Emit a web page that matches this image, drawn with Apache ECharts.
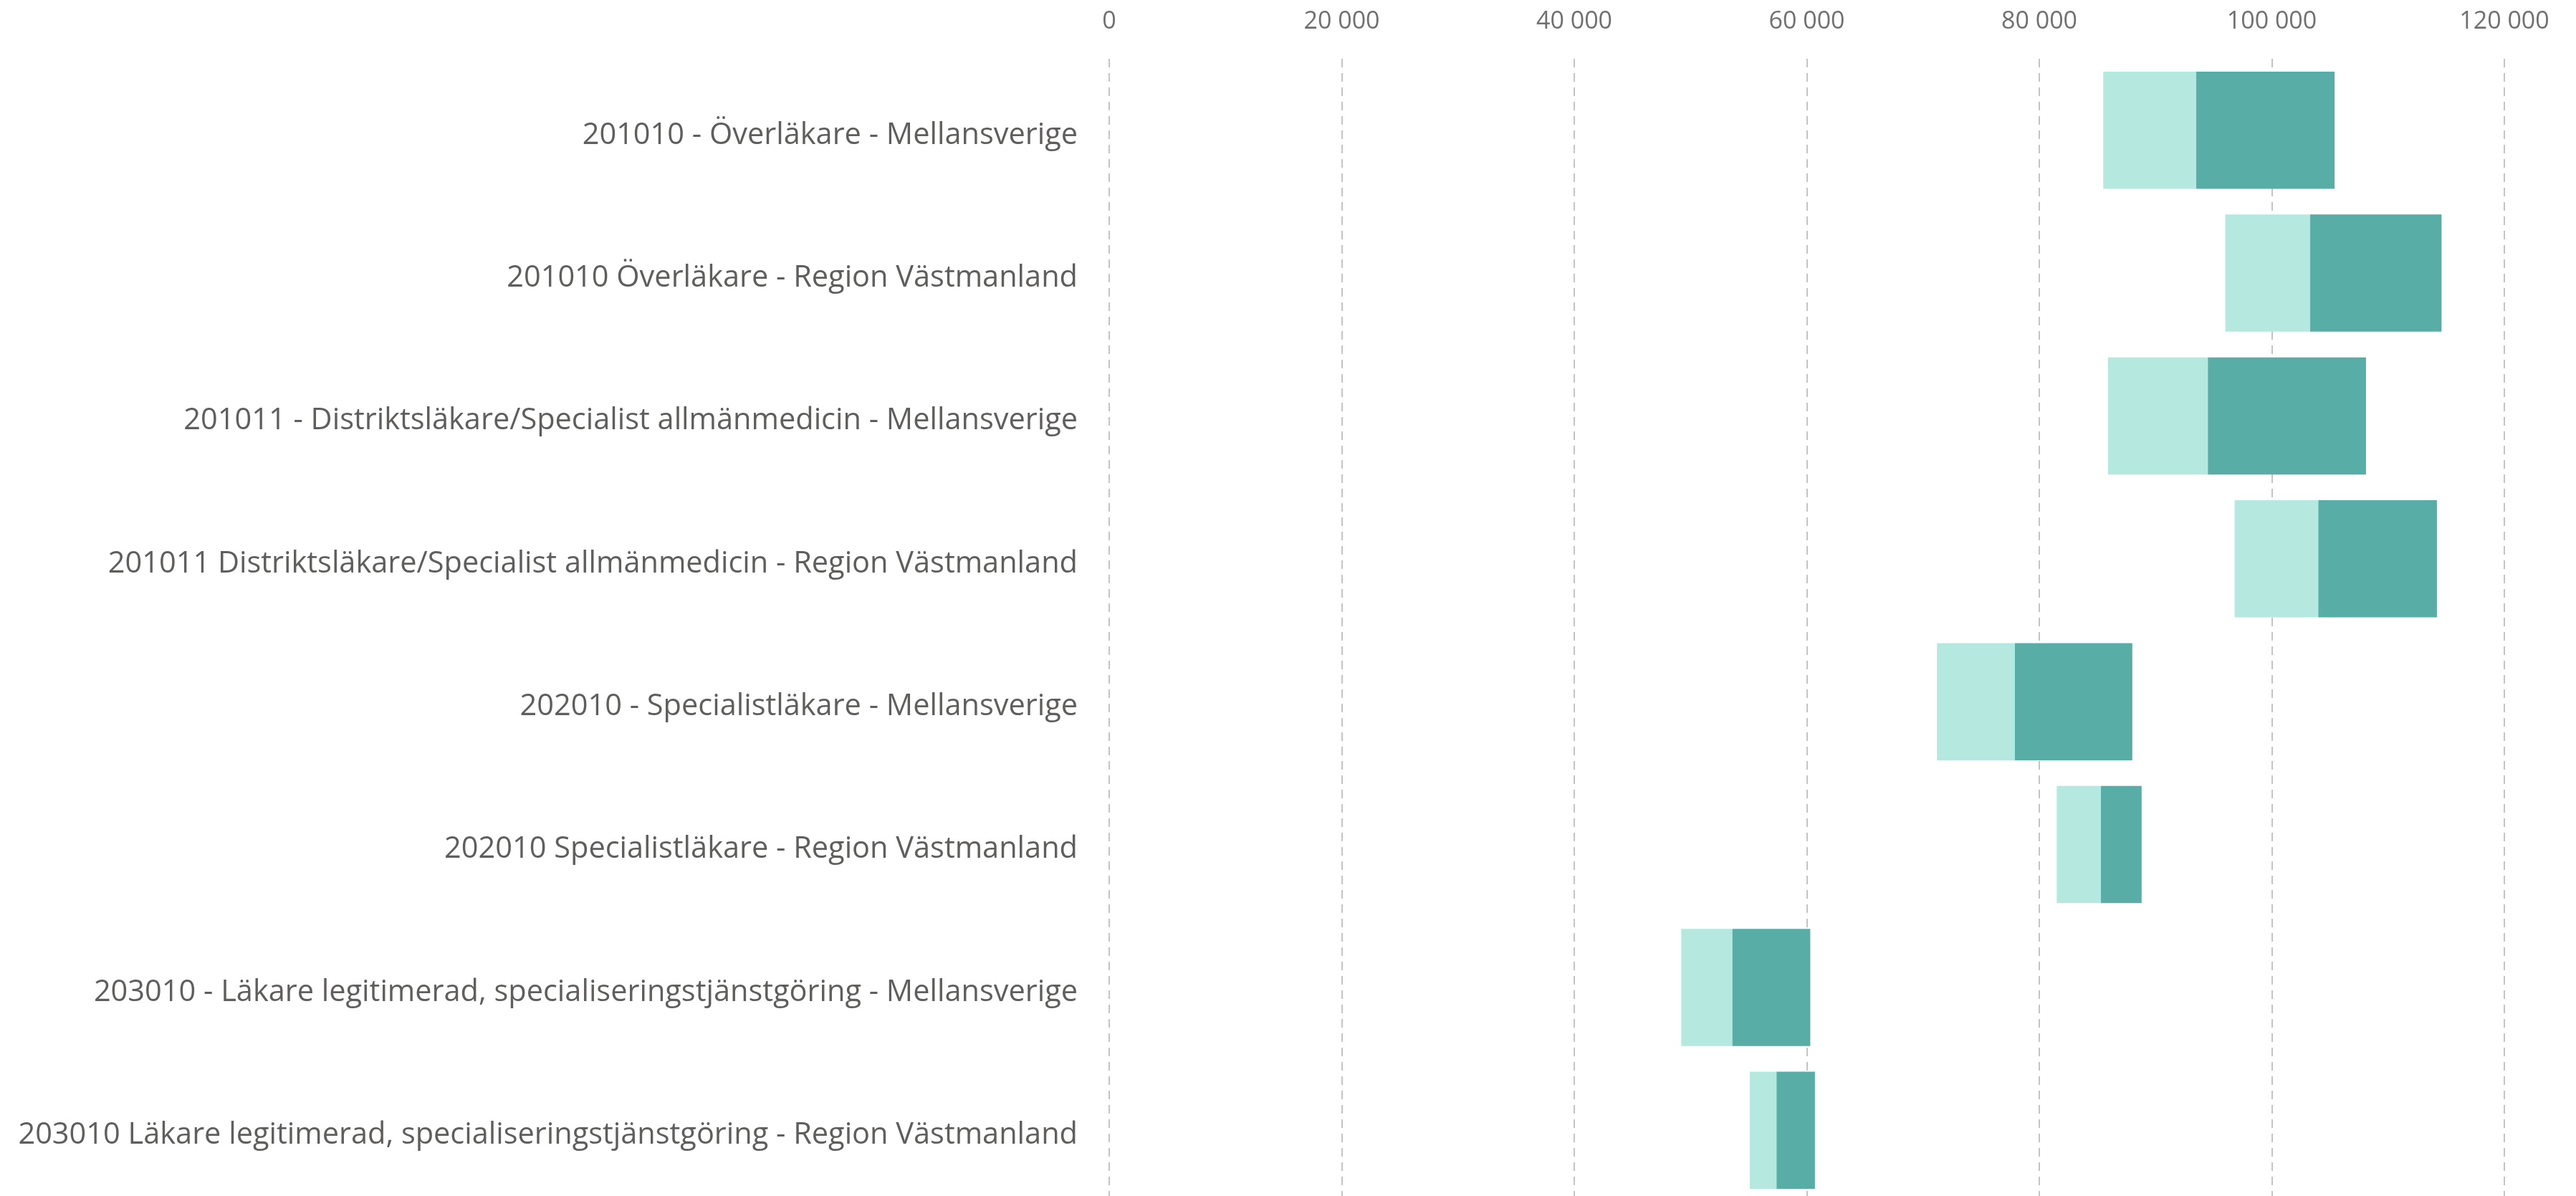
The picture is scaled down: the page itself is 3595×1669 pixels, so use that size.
<!DOCTYPE html>
<html>
<head>
<meta charset="utf-8">
<script src="https://cdn.jsdelivr.net/npm/echarts@6/dist/echarts.min.js"></script>
<style>
  html, body { margin: 0; padding: 0; background: #fff; }
  #chart { width: 3595px; height: 1669px; }
</style>
</head>
<body>
<div id="chart"></div>
<script>
var categories = [
    '201010 - Överläkare - Mellansverige',
    '201010 Överläkare - Region Västmanland',
    '201011 - Distriktsläkare/Specialist allmänmedicin - Mellansverige',
    '201011 Distriktsläkare/Specialist allmänmedicin - Region Västmanland',
    '202010 - Specialistläkare - Mellansverige',
    '202010 Specialistläkare - Region Västmanland',
    '203010 - Läkare legitimerad, specialiseringstjänstgöring - Mellansverige',
    '203010 Läkare legitimerad, specialiseringstjänstgöring - Region Västmanland'
];
// where the light part starts, where light turns dark, where the bar ends
var lowValues = [85500, 96000, 85900, 96800, 71200, 81500, 49200, 55100];
var midValues = [93500, 103300, 94500, 104000, 77900, 85300, 53600, 57400];
var highValues = [105400, 114600, 108100, 114200, 88000, 88800, 60300, 60700];
var xTicks = [0, 20000, 40000, 60000, 80000, 100000, 120000];

var lightPart = [];
var darkPart = [];
for (var i = 0; i < categories.length; i++) {
    lightPart.push(midValues[i] - lowValues[i]);
    darkPart.push(highValues[i] - midValues[i]);
}

function fmt(v) {
    return String(v).replace(/\B(?=(\d{3})+(?!\d))/g, ' ');
}

var chart = echarts.init(document.getElementById('chart'));
var option = {
    animation: false,
    textStyle: {
        fontFamily: 'Open Sans'
    },
    grid: {
        left: 1548,
        top: 82,
        width: 1947,
        height: 1595,
        outerBoundsMode: 'none'
    },
    xAxis: {
        type: 'value',
        position: 'top',
        min: xTicks[0],
        max: xTicks[xTicks.length - 1],
        interval: 20000,
        axisLine: { show: false },
        axisTick: { show: false },
        axisLabel: {
            color: '#707070',
            fontSize: 34,
            margin: 35,
            formatter: fmt
        },
        splitLine: {
            lineStyle: {
                color: '#c4c4c4',
                width: 2,
                type: [12, 8]
            }
        }
    },
    yAxis: {
        type: 'category',
        inverse: true,
        data: categories,
        axisLine: { show: false },
        axisTick: { show: false },
        axisLabel: {
            margin: 44,
            formatter: function (v) { return '{l|' + v + '}'; },
            rich: {
                l: {
                    color: '#605e5c',
                    fontSize: 41.5,
                    fontFamily: 'Open Sans',
                    padding: [14, 0, 0, 0]
                }
            }
        }
    },
    series: [
        {
            type: 'bar',
            stack: 'range',
            data: lowValues,
            itemStyle: { color: 'transparent' },
            barCategoryGap: '18%',
            silent: true
        },
        {
            type: 'bar',
            stack: 'range',
            data: lightPart,
            itemStyle: { color: '#b5e9e0' }
        },
        {
            type: 'bar',
            stack: 'range',
            data: darkPart,
            itemStyle: { color: '#58ada7' }
        }
    ]
};
chart.setOption(option);
</script>
</body>
</html>
